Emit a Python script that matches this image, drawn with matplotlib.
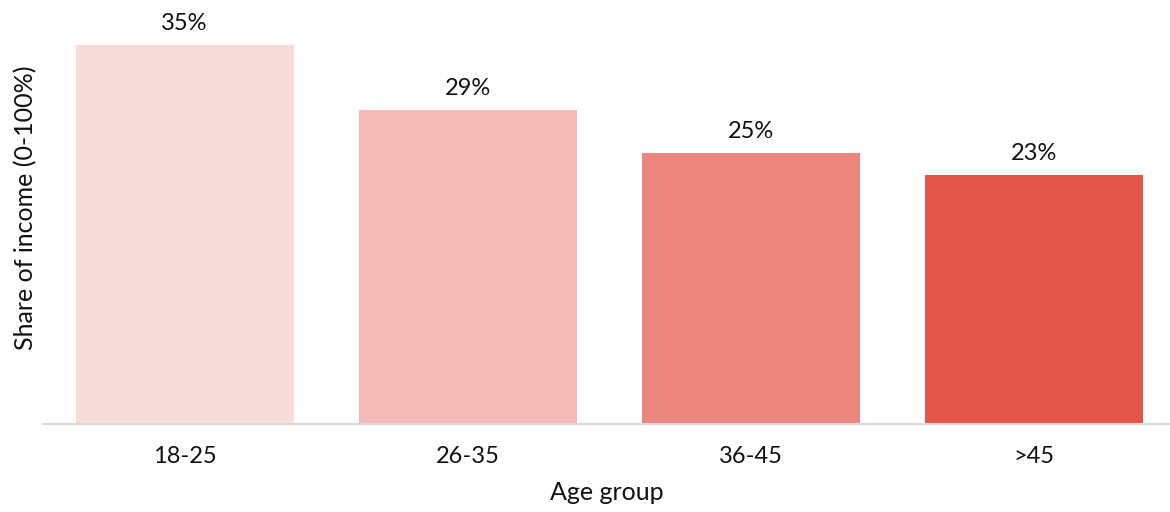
import matplotlib.pyplot as plt

plt.rcParams['font.family'] = ['Lato', 'DejaVu Sans']

# data
groups = ['18-25', '26-35', '36-45', '>45']
shares = [35, 29, 25, 23]
colors = ['#F7DCD9', '#F4BAB6', '#EC877F', '#E3574B']

fig = plt.figure(figsize=(11.7, 5.12), dpi=100)
ax = fig.add_axes([0.0368, 0.172, 0.963, 0.818])

x = range(len(groups))
bars = ax.bar(x, shares, width=0.77, color=colors)

# value labels above each bar
for b, v in zip(bars, shares):
    ax.annotate('%d%%' % v, (b.get_x() + b.get_width() / 2, b.get_height()),
                xytext=(0, 8), textcoords='offset points',
                ha='center', va='bottom', fontsize=17, color='#111111')

ax.set_xlim(-0.5, 3.48)
ax.set_ylim(0, 38.7)
ax.set_xticks(list(x))
ax.set_xticklabels(groups, fontsize=17, color='#111111')
ax.set_yticks([])
ax.tick_params(axis='x', length=0, pad=16)

for side in ['top', 'right', 'left']:
    ax.spines[side].set_visible(False)
ax.spines['bottom'].set_color('#D9D9D9')
ax.spines['bottom'].set_linewidth(1.5)

ax.set_xlabel('Age group', fontsize=18, color='#111111', labelpad=10)
ax.set_ylabel('Share of income (0-100%)', fontsize=18, color='#111111')
ax.yaxis.set_label_coords(-0.005, 0.517)

fig.savefig('out.png', dpi=100)
